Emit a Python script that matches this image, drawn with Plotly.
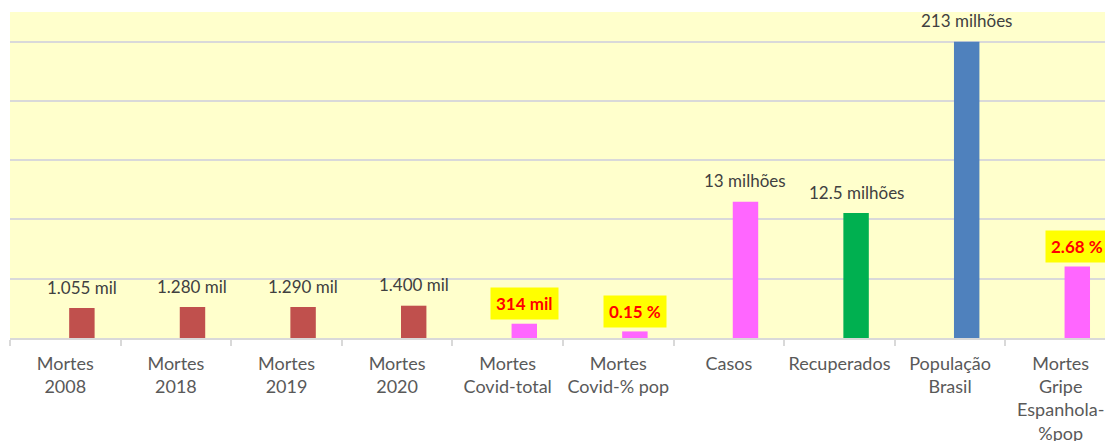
import plotly.graph_objects as go

categories = ["Mortes<br>2008", "Mortes<br>2018", "Mortes<br>2019", "Mortes<br>2020",
              "Mortes<br>Covid-total", "Mortes<br>Covid-% pop", "Casos", "Recuperados",
              "População<br>Brasil", "Mortes<br>Gripe<br>Espanhola-<br>%pop"]
# bar heights as drawn (chart units, one gridline = 1)
bar_heights = [0.506, 0.523, 0.523, 0.545, 0.241, 0.111, 2.30, 2.108, 5.0, 1.207]
value_labels = ["1.055 mil", "1.280 mil", "1.290 mil", "1.400 mil", "314 mil", "0.15 %",
                "13 milhões", "12.5 milhões", "213 milhões", "2.68 %"]
highlighted = [False, False, False, False, True, True, False, False, False, True]
bar_colors = ["#C0504D", "#C0504D", "#C0504D", "#C0504D", "#FF66FF", "#FF66FF",
              "#FF66FF", "#00B050", "#4F81BD", "#FF66FF"]

FONT = "Lato"
BAR_W = 0.23
BAR_SHIFT = 0.15  # bars sit right of the category centre (as in the source)

fig = go.Figure()
fig.add_trace(go.Bar(
    x=categories, y=bar_heights, marker=dict(color=bar_colors, line=dict(width=0)),
    width=BAR_W, offset=BAR_SHIFT - BAR_W / 2, hoverinfo="skip", showlegend=False,
))

cat_px = 110.6
for cat, h, lab, hl in zip(categories, bar_heights, value_labels, highlighted):
    if hl:
        fig.add_annotation(x=cat, y=h, text="<b>" + lab + "</b>", showarrow=False,
                           yshift=20, xshift=BAR_SHIFT * cat_px, yanchor="middle",
                           font=dict(family=FONT, size=17, color="#FF0000"),
                           bgcolor="#FFFF00", borderpad=5)
    else:
        fig.add_annotation(x=cat, y=h, text=lab, showarrow=False,
                           yshift=21, xshift=BAR_SHIFT * cat_px, yanchor="middle",
                           font=dict(family=FONT, size=17, color="#404040"))

fig.update_layout(
    width=1113, height=441,
    margin=dict(l=2, r=5, t=4, b=111),
    paper_bgcolor="white", plot_bgcolor="#FFFFCC",
    font=dict(family=FONT),
)
fig.update_xaxes(
    range=[-0.5, 9.5], automargin=False,
    showline=True, linecolor="#D9D9D9", linewidth=2,
    ticks="outside", tickson="boundaries", ticklen=6, tickcolor="#D9D9D9", tickwidth=2,
    tickfont=dict(family=FONT, size=18, color="#595959"),
    ticklabelstandoff=8,
    showgrid=False, tickangle=0,
)
fig.update_yaxes(
    range=[0, 5.5], dtick=1, showticklabels=False, automargin=False,
    showgrid=True, gridcolor="#D9D9D9", gridwidth=2, zeroline=False,
)

fig.write_html("out.html")
